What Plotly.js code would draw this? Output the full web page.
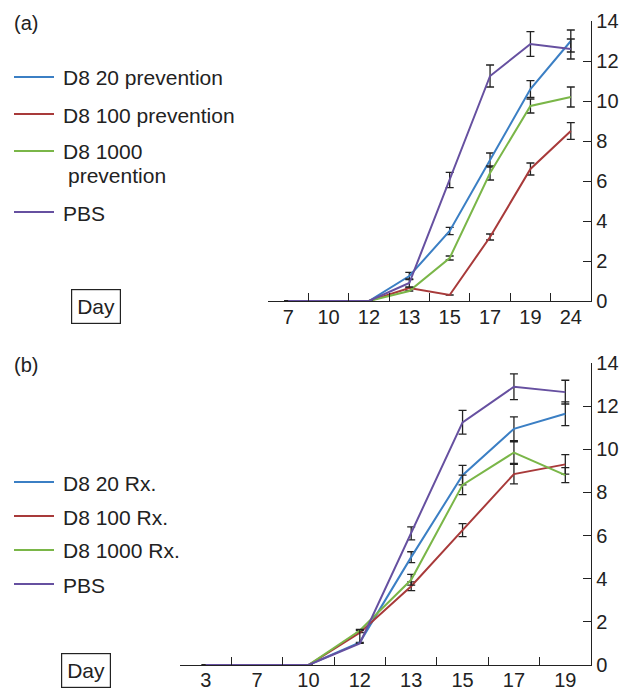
<!DOCTYPE html>
<html>
<head>
<meta charset="utf-8">
<script src="https://cdn.plot.ly/plotly-3.0.1.min.js"></script>
<style>html,body{margin:0;padding:0;background:#fff;}#chart{width:632px;height:689px;}</style>
</head>
<body>
<div id="chart"></div>
<script>
// Panel (a) — prevention
const daysA = ["7","10","12","13","15","17","19","24"];
const a_d20   = [0,0,0,1.25,3.5,7.05,10.6,13.0];
const a_d20e  = [0,0,0,0.18,0.18,0.35,0.42,0.55];
const a_d100  = [0,0,0,0.65,0.3,3.2,6.6,8.5];
const a_d100e = [0,0,0,0,0,0.15,0.3,0.42];
const a_d1000 = [0,0,0,0.5,2.15,6.4,9.75,10.2];
const a_d1000e= [0,0,0,0,0.1,0.35,0.35,0.5];
const a_pbs   = [0,0,0,0.9,6.05,11.25,12.85,12.6];
const a_pbse  = [0,0,0,0.2,0.38,0.55,0.62,0.5];

// Panel (b) — treatment
const daysB = ["3","7","10","12","13","15","17","19"];
const b_d20   = [0,0,0,1.05,5.0,8.8,10.95,11.65];
const b_d20e  = [0,0,0,0,0.25,0.45,0.55,0.55];
const b_d100  = [0,0,0,1.5,3.65,6.25,8.85,9.3];
const b_d100e = [0,0,0,0,0.2,0.3,0.45,0.45];
const b_d1000 = [0,0,0,1.6,3.95,8.35,9.85,8.8];
const b_d1000e= [0,0,0,0,0.25,0.45,0.5,0.35];
const b_pbs   = [0,0,0,1.0,6.1,11.25,12.9,12.65];
const b_pbseUp= [0,0,0,0.65,0.3,0.55,0.6,0.55];
const b_pbseDn= [0,0,0,0,0.3,0.55,0.6,0.55];

const namesA = ["D8 20 prevention","D8 100 prevention","D8 1000","PBS"];
const namesB = ["D8 20 Rx.","D8 100 Rx.","D8 1000 Rx.","PBS"];
const colors = ["#3b7fc4","#a83a3a","#7ab648","#6650a0"];

function mk(x, y, e, name, color, xa, ya, eDn){
  const err = {type: "data", array: e, visible: true, color: "#222", thickness: 1.3, width: 4};
  if (eDn) { err.symmetric = false; err.arrayminus = eDn; }
  return {
    x: x, y: y, type: "scatter", mode: "lines", name: name,
    xaxis: xa, yaxis: ya, showlegend: false,
    line: {color: color, width: 2},
    cliponaxis: false,
    error_y: err
  };
}

const traces = [
  mk(daysA, a_d20, a_d20e, namesA[0], colors[0], "x", "y"),
  mk(daysA, a_d100, a_d100e, namesA[1], colors[1], "x", "y"),
  mk(daysA, a_d1000, a_d1000e, namesA[2], colors[2], "x", "y"),
  mk(daysA, a_pbs, a_pbse, namesA[3], colors[3], "x", "y"),
  mk(daysB, b_d20, b_d20e, namesB[0], colors[0], "x2", "y2"),
  mk(daysB, b_d100, b_d100e, namesB[1], colors[1], "x2", "y2"),
  mk(daysB, b_d1000, b_d1000e, namesB[2], colors[2], "x2", "y2"),
  mk(daysB, b_pbs, b_pbseUp, namesB[3], colors[3], "x2", "y2", b_pbseDn)
];

const font = {family: "Liberation Sans, Arial, sans-serif", size: 20, color: "#222"};
const legFont = {family: "Liberation Sans, Arial, sans-serif", size: 21, color: "#222"};

function xax(domain, anchor, standoff){
  return {
    domain: domain, anchor: anchor, type: "category",
    range: [-0.5, 7.5], tickson: "boundaries",
    ticks: "inside", ticklen: 8, tickwidth: 1, tickcolor: "#222",
    ticklabelstandoff: standoff,
    showline: true, linecolor: "#222", linewidth: 1.3,
    showgrid: false, zeroline: false, fixedrange: true,
    tickfont: font
  };
}
function yax(domain, anchor){
  return {
    domain: domain, anchor: anchor, side: "right",
    range: [0, 14], tickvals: [0,2,4,6,8,10,12,14],
    ticks: "inside", ticklen: 8, tickwidth: 1, tickcolor: "#222",
    showline: true, linecolor: "#222", linewidth: 1.3,
    showgrid: false, zeroline: false, fixedrange: true,
    tickfont: font
  };
}

const W = 632, H = 689;
const px = v => v / W;
const py = v => 1 - v / H;

// legend layout (text labels + swatch lines)
const legA = [
  {text: namesA[0], ty: 78, ly: 77, c: colors[0]},
  {text: namesA[1], ty: 115, ly: 114, c: colors[1]},
  {text: namesA[2], ty: 152, ly: 151, c: colors[2]},
  {text: namesA[3], ty: 213, ly: 212, c: colors[3]}
];
const legB = [
  {text: namesB[0], ty: 483, ly: 482, c: colors[0]},
  {text: namesB[1], ty: 517, ly: 516, c: colors[1]},
  {text: namesB[2], ty: 550, ly: 550, c: colors[2]},
  {text: namesB[3], ty: 585, ly: 584, c: colors[3]}
];

const annotations = [];
const shapes = [];
[...legA, ...legB].forEach(it => {
  annotations.push({text: it.text, xref: "paper", yref: "paper", x: px(61), y: py(it.ty),
    xanchor: "left", yanchor: "middle", showarrow: false, font: legFont});
  shapes.push({type: "line", xref: "paper", yref: "paper", x0: px(14), x1: px(54), y0: py(it.ly), y1: py(it.ly),
    line: {color: it.c, width: 2}});
});
annotations.push({text: "prevention", xref: "paper", yref: "paper", x: px(66), y: py(176),
  xanchor: "left", yanchor: "middle", showarrow: false, font: legFont});
annotations.push({text: "(a)", xref: "paper", yref: "paper", x: px(12), y: py(23), xanchor: "left", yanchor: "middle", showarrow: false, font: font});
annotations.push({text: "(b)", xref: "paper", yref: "paper", x: px(12), y: py(365), xanchor: "left", yanchor: "middle", showarrow: false, font: font});
annotations.push({text: "Day", xref: "paper", yref: "paper", x: px(95.5), y: py(306), xanchor: "center", yanchor: "middle", showarrow: false, font: legFont,
  bordercolor: "#222", borderwidth: 1.2, borderpad: 5, bgcolor: "#fff"});
annotations.push({text: "Day", xref: "paper", yref: "paper", x: px(86), y: py(670), xanchor: "center", yanchor: "middle", showarrow: false, font: legFont,
  bordercolor: "#222", borderwidth: 1.2, borderpad: 5, bgcolor: "#fff"});

const layout = {
  width: W, height: H,
  margin: {l: 0, r: 0, t: 0, b: 0},
  paper_bgcolor: "#fff", plot_bgcolor: "#fff",
  font: font,
  showlegend: false,
  xaxis: xax([px(268), px(591)], "y", -2),
  yaxis: yax([py(301), py(21)], "x"),
  xaxis2: xax([px(180), px(591)], "y2", -3),
  yaxis2: yax([py(665), py(363)], "x2"),
  annotations: annotations,
  shapes: shapes
};

Plotly.newPlot("chart", traces, layout, {displayModeBar: false, staticPlot: true});
</script>
</body>
</html>
